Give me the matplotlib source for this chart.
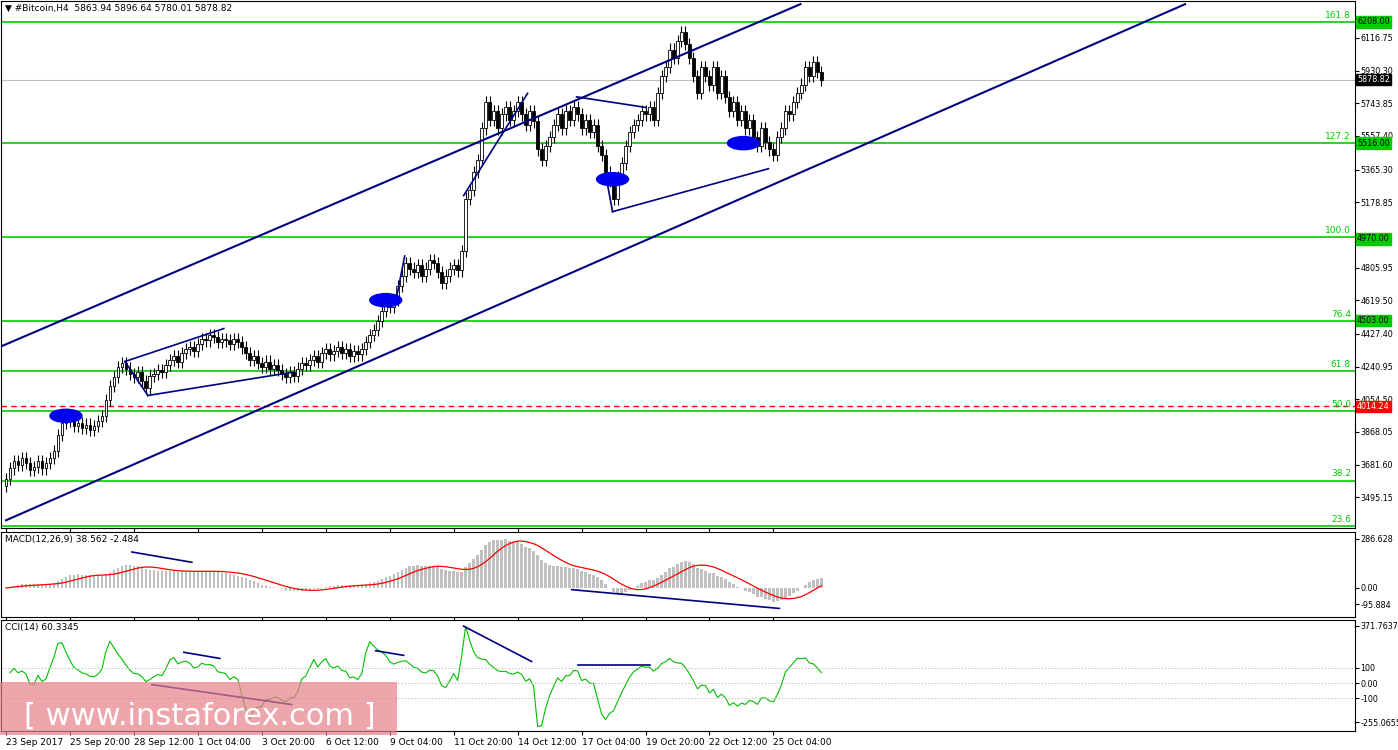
import numpy as np
import pandas as pd
import matplotlib
matplotlib.use('Agg')
import matplotlib.pyplot as plt
from matplotlib.patches import Ellipse, Rectangle

# H4 closes
closes = [3600, 3660, 3700, 3680, 3720, 3690, 3650, 3670, 3700, 3660, 3690, 3720, 3760,
          3850, 3920, 3940,
          3930, 3900, 3920, 3890, 3910, 3880, 3900, 3930, 3960,
          4050, 4130, 4180, 4240, 4260, 4230,
          4200, 4180, 4210, 4160, 4120, 4190,
          4200, 4220, 4210, 4250, 4280, 4300, 4270, 4320, 4340, 4350, 4330,
          4370, 4400, 4390, 4420, 4410, 4380, 4400, 4390, 4370, 4400, 4380, 4350,
          4320, 4280, 4300, 4260, 4240, 4270, 4230, 4250, 4220, 4200, 4180, 4210, 4190,
          4230, 4260, 4250, 4280, 4300, 4270, 4320, 4340, 4310, 4330, 4350, 4320, 4340, 4300, 4330, 4310, 4340,
          4380, 4420, 4450, 4500, 4560, 4600,
          4580, 4620, 4700, 4760, 4830,
          4800, 4780, 4820, 4760, 4800, 4850, 4830, 4780, 4720, 4760, 4800, 4820, 4790,
          4900, 5200, 5250, 5350, 5420,
          5600, 5750, 5650, 5700,
          5600, 5680, 5720, 5650, 5700, 5750, 5680, 5620, 5700, 5640,
          5480, 5420, 5500,
          5550, 5620, 5680, 5600, 5700, 5650, 5720, 5680, 5600, 5650, 5580, 5620,
          5500, 5450, 5350, 5300, 5200, 5320,
          5400, 5500, 5580, 5620, 5650, 5700, 5680, 5720, 5650,
          5800, 5900, 5950, 6050, 6000, 6100, 6150, 6080,
          6000, 5900, 5800, 5950, 5900, 5850, 5950, 5800, 5900, 5780,
          5700, 5750, 5650, 5700, 5600, 5650, 5550, 5500, 5600, 5520, 5480, 5450,
          5550, 5600, 5700, 5680, 5750, 5800, 5850, 5950, 5900, 5980, 5920, 5878.82]
first_open = 3560
wick = 35

date_labels = ['23 Sep 2017', '25 Sep 20:00', '28 Sep 12:00', '1 Oct 04:00', '3 Oct 20:00',
               '6 Oct 12:00', '9 Oct 04:00', '11 Oct 20:00', '14 Oct 12:00', '17 Oct 04:00',
               '19 Oct 20:00', '22 Oct 12:00', '25 Oct 04:00']
date_bars = [0, 16, 32, 48, 64, 80, 96, 112, 128, 144, 160, 176, 192]

price_ticks = [6116.75, 5930.30, 5743.85, 5557.40, 5365.30, 5178.85, 4805.95, 4619.50,
               4427.40, 4240.95, 4054.50, 3868.05, 3681.60, 3495.15]
level_prices = [6208.00, 5516.00, 4970.00, 4503.00]
fib_prices = [6208, 5516, 4981, 4503, 4216, 3985, 3591, 3330]
fib_names = ['161.8', '127.2', '100.0', '76.4', '61.8', '50.0', '38.2', '23.6']
red_level = 4014.24

# trend lines as (bar, price) anchors
upper_channel = [(-1.25, 4356), (198.75, 6309)]
lower_channel = [(0, 3364), (295, 6309)]
drawn_lines = [
    [(35.5, 4076), (71.75, 4209)],
    [(35.5, 4076), (29.75, 4270)],
    [(29.75, 4270), (54.5, 4458)],
    [(97.5, 4612), (99.75, 4872)],
    [(114.5, 5217), (130.5, 5800)],
    [(142.75, 5780), (160, 5720)],
    [(151.75, 5125), (190.75, 5370)],
    [(151.75, 5125), (150, 5340)],
]
ellipses = [(15, 3960), (95, 4620), (151.75, 5310), (184.5, 5516)]

N = len(closes)
c = np.array(closes, dtype=float)
o = np.concatenate([[first_open], c[:-1]])
h = np.maximum(o, c) + wick
l = np.minimum(o, c) - wick
x = np.arange(N)

close_s = pd.Series(c)
macd = close_s.ewm(span=12, adjust=False).mean() - close_s.ewm(span=26, adjust=False).mean()
signal = macd.rolling(9, min_periods=1).mean()
tp = pd.Series((h + l + c) / 3)
sma = tp.rolling(14, min_periods=1).mean()
md = tp.rolling(14, min_periods=1).apply(lambda v: np.mean(np.abs(v - v.mean())), raw=True)
cci = (tp - sma) / (0.015 * md.replace(0, np.nan))

W, H = 1398, 750
fig = plt.figure(figsize=(W / 100, H / 100), dpi=100)
def box(x0, y0, x1, y1):
    return [x0 / W, 1 - y1 / H, (x1 - x0) / W, (y1 - y0) / H]

ax = fig.add_axes(box(1, 1, 1355, 528))
ax_m = fig.add_axes(box(1, 532, 1355, 617), sharex=ax)
ax_c = fig.add_axes(box(1, 620, 1355, 731), sharex=ax)
xlim = (-1.25, 337.5)
navy = '#000080'
green = '#00cc00'
fs = 6.5
fs_r = 5.8

for a in (ax, ax_m, ax_c):
    a.set_xlim(*xlim)
    a.yaxis.tick_right()
    a.tick_params(axis='both', labelsize=fs, length=3, pad=2)
    a.tick_params(axis='y', labelsize=fs_r, pad=1)
    for s in a.spines.values():
        s.set_linewidth(0.8)

# candles
for i in range(N):
    ax.vlines(x[i], l[i], h[i], color='black', lw=0.8, zorder=3)
    up = c[i] >= o[i]
    ax.add_patch(Rectangle((x[i] - 0.35, min(o[i], c[i])), 0.7, max(abs(c[i] - o[i]), 4),
                           facecolor='white' if up else 'black', edgecolor='black', lw=0.6, zorder=4))
ax.set_ylim(3320, 6327)
ax.set_yticks(price_ticks)
ax.set_yticklabels(['%.2f' % p for p in price_ticks])
ax.axhline(c[-1], color='#c0c0c0', lw=0.8, zorder=1)

for p, name in zip(fib_prices, fib_names):
    ax.axhline(p, color=green, lw=1.2, zorder=2)
    ax.text(0.997, p + 12, name, color=green, fontsize=fs, ha='right', va='bottom',
            transform=ax.get_yaxis_transform())
ax.axhline(red_level, color='red', lw=1, ls=(0, (4, 3)), zorder=2)

for line in [upper_channel, lower_channel] + drawn_lines:
    (x0, y0), (x1, y1) = line
    ax.plot([x0, x1], [y0, y1], color=navy, lw=1.5 if line in (upper_channel, lower_channel) else 1.2, zorder=5)
for ex, ey in ellipses:
    ax.add_patch(Ellipse((ex, ey), 8, 75, color='#0000ee', zorder=6))

def tag(a, y, text, fc, tc='black'):
    a.text(1.0015, y, text, transform=a.get_yaxis_transform(), fontsize=fs_r, color=tc,
           va='center', ha='left', bbox=dict(boxstyle='square,pad=0.15', fc=fc, ec=fc), zorder=10, clip_on=False)
for p in level_prices:
    tag(ax, p, '%.2f' % p, green)
tag(ax, red_level, '%.2f' % red_level, 'red', 'white')
tag(ax, c[-1], '%.2f' % c[-1], 'black', 'white')

ax.text(0.003, 0.995, '\u25bc #Bitcoin,H4  5863.94 5896.64 5780.01 5878.82', transform=ax.transAxes,
        fontsize=fs, va='top', ha='left')
plt.setp(ax.get_xticklabels(), visible=False)

# MACD
ax_m.bar(x, macd, width=0.6, color='#c0c0c0')
ax_m.plot(x, signal, color='red', lw=0.9)
ax_m.set_ylim(-170, 327)
ax_m.set_yticks([286.628, 0.0, -95.884])
ax_m.set_yticklabels(['286.628', '0.00', '-95.884'])
ax_m.plot([141.5, 193.5], [-10, -120], color=navy, lw=1.2)
ax_m.plot([31.5, 46.5], [210, 150], color=navy, lw=1.2)
ax_m.text(0.003, 0.97, 'MACD(12,26,9) 38.562 -2.484', transform=ax_m.transAxes, fontsize=fs, va='top')
plt.setp(ax_m.get_xticklabels(), visible=False)

# CCI
ax_c.plot(x, cci, color='#00c000', lw=0.8)
ax_c.set_ylim(-312, 410)
for lv in (100, 0, -100):
    ax_c.axhline(lv, color='#c0c0c0', lw=0.6, ls=(0, (2, 2)))
ax_c.set_yticks([371.7637, 100, 0, -100, -255.0655])
ax_c.set_yticklabels(['371.7637', '100', '0.00', '-100', '-255.0655'])
ax_c.plot([44.5, 53.5], [200, 160], color=navy, lw=1.2)
ax_c.plot([36.5, 71.5], [-10, -140], color=navy, lw=1.2)
ax_c.plot([92.5, 99.5], [210, 180], color=navy, lw=1.2)
ax_c.plot([114.5, 131.5], [370, 140], color=navy, lw=1.2)
ax_c.plot([143, 161], [115, 115], color=navy, lw=1.2)
ax_c.text(0.003, 0.97, 'CCI(14) 60.3345', transform=ax_c.transAxes, fontsize=fs, va='top')
ax_c.set_xticks(date_bars)
ax_c.set_xticklabels(date_labels, ha='left')

# watermark
fig.patches.append(Rectangle((0, 1 - 735 / H), 397 / W, 53 / H, transform=fig.transFigure,
                             facecolor='#e8808a', alpha=0.7, zorder=20))
fig.text(200 / W, 1 - 716 / H, '[ www.instaforex.com ]', color='white', fontsize=22,
         ha='center', va='center', zorder=21)

fig.savefig('out.png', dpi=100)
